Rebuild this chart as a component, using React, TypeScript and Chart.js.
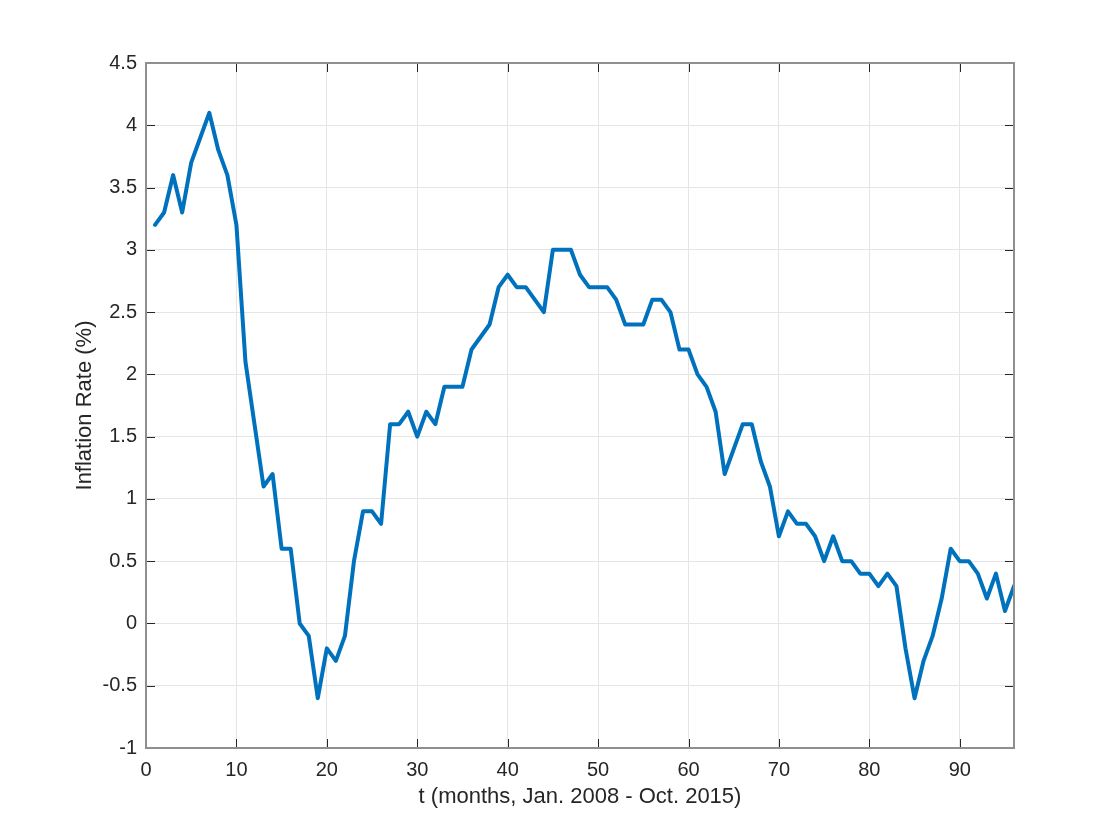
import React, { useEffect, useRef } from "react";
import { Chart, registerables } from "chart.js";

Chart.register(...registerables);

const months: number[] = [
  1, 2, 3, 4, 5, 6, 7, 8, 9, 10, 11, 12, 13, 14, 15, 16, 17, 18, 19, 20, 21, 22, 23, 24,
  25, 26, 27, 28, 29, 30, 31, 32, 33, 34, 35, 36, 37, 38, 39, 40, 41, 42, 43, 44, 45, 46, 47, 48,
  49, 50, 51, 52, 53, 54, 55, 56, 57, 58, 59, 60, 61, 62, 63, 64, 65, 66, 67, 68, 69, 70, 71, 72,
  73, 74, 75, 76, 77, 78, 79, 80, 81, 82, 83, 84, 85, 86, 87, 88, 89, 90, 91, 92, 93, 94, 95, 96,
];

const inflation: number[] = [
  3.2, 3.3, 3.6, 3.3, 3.7, 3.9, 4.1, 3.8, 3.6, 3.2, 2.1, 1.6, 1.1, 1.2, 0.6, 0.6, 0.0, -0.1, -0.6, -0.2, -0.3, -0.1, 0.5, 0.9,
  0.9, 0.8, 1.6, 1.6, 1.7, 1.5, 1.7, 1.6, 1.9, 1.9, 1.9, 2.2, 2.3, 2.4, 2.7, 2.8, 2.7, 2.7, 2.6, 2.5, 3.0, 3.0, 3.0, 2.8,
  2.7, 2.7, 2.7, 2.6, 2.4, 2.4, 2.4, 2.6, 2.6, 2.5, 2.2, 2.2, 2.0, 1.9, 1.7, 1.2, 1.4, 1.6, 1.6, 1.3, 1.1, 0.7, 0.9, 0.8,
  0.8, 0.7, 0.5, 0.7, 0.5, 0.5, 0.4, 0.4, 0.3, 0.4, 0.3, -0.2, -0.6, -0.3, -0.1, 0.2, 0.6, 0.5, 0.5, 0.4, 0.2, 0.4, 0.1, 0.3,
];

const xTitle = "t (months, Jan. 2008 - Oct. 2015)";
const yTitle = "Inflation Rate (%)";
const xMin = 0;
const xMax = 96;
const xStep = 10;
const yMin = -1;
const yMax = 4.5;
const yStep = 0.5;

const FONT = "'Liberation Sans', Arial, Helvetica, sans-serif";
const TEXT = "#262626";

const boxPlugin = {
  id: "matlabBox",
  afterDraw(chart: any) {
    const { ctx, chartArea } = chart;
    const { left, right, top, bottom } = chartArea;
    const xs = chart.scales.x;
    const ys = chart.scales.y;
    const len = 9;
    ctx.save();
    ctx.strokeStyle = TEXT;
    ctx.lineWidth = 1;
    ctx.beginPath();
    xs.ticks.forEach((t: any) => {
      const px = Math.round(xs.getPixelForValue(t.value)) + 0.5;
      ctx.moveTo(px, bottom);
      ctx.lineTo(px, bottom - len);
      ctx.moveTo(px, top);
      ctx.lineTo(px, top + len);
    });
    ys.ticks.forEach((t: any) => {
      const py = Math.round(ys.getPixelForValue(t.value)) + 0.5;
      ctx.moveTo(left, py);
      ctx.lineTo(left + len, py);
      ctx.moveTo(right, py);
      ctx.lineTo(right - len, py);
    });
    ctx.stroke();
    ctx.strokeStyle = "#8f8f8f";
    ctx.lineWidth = 2;
    ctx.strokeRect(left, top, right - left, bottom - top);
    ctx.restore();
  },
};

export default function App() {
  const ref = useRef<HTMLCanvasElement | null>(null);

  useEffect(() => {
    document.body.style.margin = "0";
    const canvas = ref.current;
    if (!canvas) return;
    const chart = new Chart(canvas, {
      type: "line",
      data: {
        datasets: [
          {
            data: months.map((m, i) => ({ x: m, y: inflation[i] })),
            borderColor: "#0072BD",
            borderWidth: 4,
            pointRadius: 0,
            tension: 0,
            borderJoinStyle: "round",
            borderCapStyle: "round",
            fill: false,
          },
        ],
      },
      options: {
        animation: false,
        responsive: false,
        maintainAspectRatio: false,
        layout: { padding: { left: 0, top: 63, right: 106, bottom: 0 } },
        plugins: { legend: { display: false }, tooltip: { enabled: false } },
        scales: {
          x: {
            type: "linear",
            min: xMin,
            max: xMax,
            afterFit: (s: any) => {
              s.height = 92;
            },
            ticks: {
              stepSize: xStep,
              includeBounds: false,
              color: TEXT,
              padding: 10,
              maxRotation: 0,
              font: { family: FONT, size: 20 },
              callback: (v: any) => String(Number(v)),
            },
            grid: { color: "#e5e5e5", lineWidth: 1, drawTicks: false },
            border: { display: false },
            title: {
              display: true,
              text: xTitle,
              color: TEXT,
              font: { family: FONT, size: 22 },
              padding: { top: 0, bottom: 30 },
            },
          },
          y: {
            type: "linear",
            min: yMin,
            max: yMax,
            afterFit: (s: any) => {
              s.width = 146;
            },
            ticks: {
              stepSize: yStep,
              includeBounds: false,
              color: TEXT,
              padding: 9,
              font: { family: FONT, size: 20 },
              callback: (v: any) => String(Math.round(Number(v) * 10) / 10),
            },
            grid: { color: "#e5e5e5", lineWidth: 1, drawTicks: false },
            border: { display: false },
            title: {
              display: true,
              text: yTitle,
              color: TEXT,
              font: { family: FONT, size: 22 },
              padding: { top: 72, bottom: 0 },
            },
          },
        },
      },
      plugins: [boxPlugin],
    });
    return () => chart.destroy();
  }, []);

  return (
    <div style={{ width: 1120, height: 840, background: "#fff" }}>
      <canvas ref={ref} width={1120} height={840} style={{ display: "block" }} />
    </div>
  );
}
